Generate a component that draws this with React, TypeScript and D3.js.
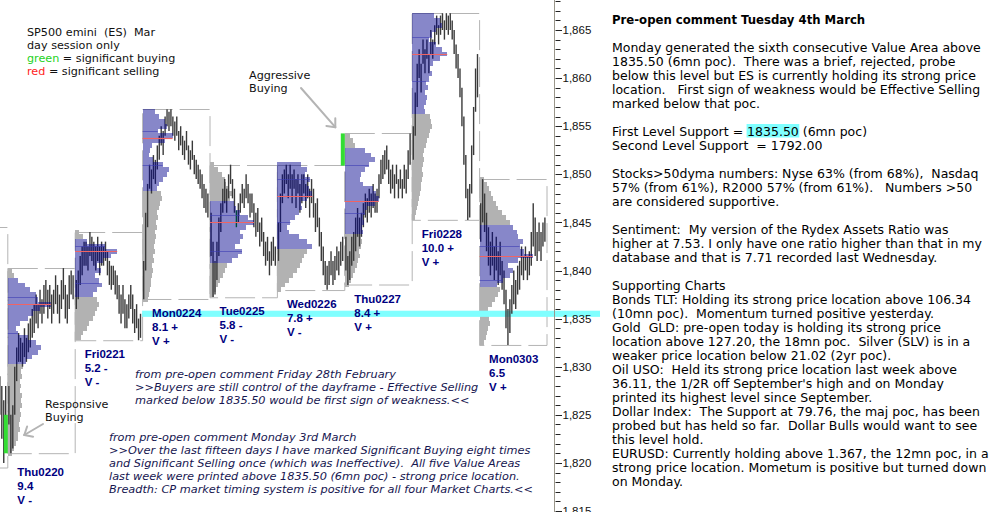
import React, { useEffect, useRef } from 'react';
import * as d3 from 'd3';

// sessions on the chart (Wed0219 is only its last few bars at the left edge)
const days = ['Wed0219', 'Thu0220', 'Fri0221', 'Mon0224', 'Tue0225', 'Wed0226', 'Thu0227', 'Fri0228', 'Mon0303'];
const dayHigh = [1844.5, 1840.25, 1844.0, 1856.75, 1851.0, 1851.0, 1854.25, 1866.75, 1849.5];
const dayLow = [1819.5, 1821.0, 1832.75, 1837.0, 1837.25, 1838.0, 1838.5, 1845.25, 1832.25];
const vaHigh = [NaN, 1839.0, 1843.0, 1856.5, 1847.0, 1851.0, 1852.5, 1866.5, 1844.5];
const vaLow = [NaN, 1830.5, 1837.5, 1848.5, 1841.0, 1842.5, 1844.0, 1856.5, 1838.5];
const pocPrice = [NaN, 1836.5, 1842.0, 1853.75, 1845.0, 1847.75, 1847.25, 1862.5, 1841.5];
const vaInner = [[], [1837.25, 1833.5], [1842.5, 1838.75], [1854.5, 1851.0], [1845.75, 1842.0], [1849.5, 1845.0], [1851.0, 1846.0], [1864.25, 1859.75], [1842.5, 1839.0]];
const rangeText = ['', '9.4', '5.2 -', '8.1 +', '5.8 -', '7.8 +', '8.4 +', '10.0 +', '6.5'];
const volText = ['', 'V -', 'V -', 'V +', 'V -', 'V -', 'V +', 'V +', 'V +'];

// volume profile, one value per half point, from profileStart upwards
const profileStart = [0, 1821.0, 1833.0, 1837.0, 1837.5, 1838.0, 1838.5, 1845.5, 1832.5];
const profThu0220 = [4, 6, 8, 10, 10, 12, 11, 12, 13, 12, 14, 13, 14, 12, 13, 12, 14, 13, 15, 18, 24, 30, 33, 28, 20, 10, 8, 12, 20, 25, 32, 43, 30, 28, 22, 17, 10, 6, 4];
const profFri0221 = [6, 8, 12, 14, 18, 20, 22, 24, 22, 18, 22, 27, 24, 20, 26, 22, 28, 36, 42, 30, 12, 8, 4];
const profMon0224 = [5, 6, 7, 8, 8, 9, 10, 9, 11, 10, 12, 11, 12, 13, 12, 14, 13, 15, 14, 16, 17, 19, 18, 14, 16, 20, 24, 26, 20, 10, 6, 7, 9, 22, 30, 15, 24, 22, 16, 12];
const profTue0225 = [4, 6, 8, 10, 13, 15, 17, 22, 28, 32, 25, 30, 33, 30, 36, 44, 38, 30, 26, 24, 20, 22, 18, 16, 15, 12, 8, 4];
const profWed0226 = [4, 8, 12, 16, 20, 23, 25, 27, 30, 35, 30, 22, 12, 10, 13, 18, 22, 25, 24, 30, 35, 32, 30, 33, 28, 30, 24];
const profThu0227 = [4, 6, 8, 10, 12, 13, 15, 14, 16, 17, 16, 18, 17, 19, 18, 20, 22, 30, 34, 31, 28, 18, 15, 16, 20, 24, 30, 26, 20, 10, 8, 5];
const profFri0228 = [3, 4, 5, 6, 7, 8, 9, 9, 10, 11, 10, 11, 12, 11, 12, 14, 15, 17, 18, 20, 19, 18, 13, 12, 14, 15, 13, 16, 14, 17, 20, 18, 21, 28, 35, 30, 24, 17, 20, 24, 30, 28, 22];
const profMon0303 = [4, 6, 7, 8, 10, 9, 5, 8, 12, 15, 18, 20, 17, 23, 30, 33, 28, 38, 53, 44, 40, 43, 38, 37, 33, 30, 26, 22, 18, 16, 13, 11, 9, 7, 4];
const profiles = [[], profThu0220, profFri0221, profMon0224, profTue0225, profWed0226, profThu0227, profFri0228, profMon0303];

// price bars [high, low]
const barsWed0219 = [[1829, 1825], [1828, 1822.5], [1826.5, 1820], [1828, 1823]];
const barsThu0220 = [[1828, 1824], [1825, 1821], [1826, 1821.5], [1830, 1825], [1832, 1828.5], [1833.5, 1830.5], [1833, 1830.5], [1832.5, 1830], [1834, 1831], [1833, 1830.5], [1834.5, 1831.5], [1835, 1832], [1836, 1833], [1836.5, 1833.5], [1837.5, 1834.5], [1836.5, 1834], [1838, 1835.5], [1837, 1834.5], [1838.5, 1835.5], [1839, 1836.5], [1838, 1835], [1838.5, 1836], [1837.5, 1834.5], [1838, 1835.5], [1839.5, 1836.5], [1838.5, 1835.5], [1837.5, 1834.5], [1839, 1836], [1840.25, 1837], [1838.5, 1835], [1837.5, 1834.5], [1839.5, 1836], [1840, 1837.5], [1839.5, 1837]];
const barsFri0221 = [[1839, 1836], [1840, 1837], [1841.5, 1838.5], [1842.5, 1839.5], [1843, 1840.5], [1843, 1840.5], [1842.5, 1840], [1844, 1841.5], [1843.5, 1841], [1843, 1840.5], [1842.5, 1840], [1843.5, 1841], [1842.5, 1839.5], [1843, 1840.5], [1842.5, 1840.5], [1843, 1841], [1842, 1839.5], [1841, 1838.5], [1840.5, 1838], [1840.5, 1838.5], [1840, 1837.5], [1839.5, 1837], [1838.5, 1835.5], [1837.5, 1834.5], [1838.5, 1835.5], [1837, 1834], [1836.5, 1834], [1837.5, 1835], [1838.5, 1836], [1837.5, 1834.5], [1836, 1833.5], [1836.5, 1834], [1835, 1832.75], [1835.5, 1833]];
const barsMon0224 = [[1841, 1837], [1846, 1840], [1849, 1844.5], [1851, 1848.5], [1850.5, 1848], [1852, 1849.5], [1851.5, 1849], [1853, 1850.5], [1854, 1851.5], [1855, 1853], [1854.5, 1852], [1856, 1854], [1856.75, 1855], [1856.5, 1854.5], [1856.75, 1855], [1856, 1854], [1855.5, 1853.5], [1856, 1854], [1854.5, 1852.5], [1855, 1853], [1854, 1852], [1853.5, 1851.5], [1854.5, 1852.5], [1853, 1851], [1852.5, 1850.5], [1853.5, 1851.5], [1852, 1850], [1851.5, 1849.5], [1851, 1849], [1850.5, 1848.5], [1850, 1847.5], [1849, 1846.5], [1848.5, 1846], [1848, 1845.5]];
const barsTue0225 = [[1846, 1841.5], [1843, 1837.25], [1841, 1837.5], [1843, 1839], [1845.5, 1841.5], [1847, 1844], [1848.5, 1846], [1849.5, 1847], [1848.5, 1846], [1850, 1847.5], [1851, 1849], [1849.5, 1847.5], [1848.5, 1846], [1846.25, 1844.5], [1847, 1845], [1848, 1846], [1849, 1847], [1848.5, 1846.5], [1850, 1847.5], [1849, 1847], [1848, 1845.5], [1848, 1846], [1847, 1844.5], [1846, 1843.5], [1846.5, 1844], [1845, 1842.5], [1845.5, 1843], [1844, 1841.5], [1843, 1840.5], [1843.5, 1841], [1842, 1839.5], [1843, 1840.5], [1843.5, 1841], [1842.5, 1840.5]];
const barsWed0226 = [[1845, 1841], [1848, 1844], [1850, 1847], [1850.5, 1848], [1851, 1849], [1850, 1847.5], [1851, 1848.5], [1850, 1847], [1850.5, 1848.5], [1849.5, 1846.5], [1850, 1848], [1849, 1846], [1850, 1847], [1850, 1848], [1849, 1846.5], [1850, 1847.5], [1848.5, 1845.5], [1849.5, 1847], [1848.5, 1845.5], [1847, 1844], [1847.5, 1844.5], [1845.5, 1842.5], [1844, 1841], [1842.5, 1839.5], [1841, 1838.5], [1840.5, 1838], [1841, 1838.5], [1842, 1839.5], [1841, 1838.5], [1841.5, 1839], [1842.5, 1840], [1842, 1839.5], [1843, 1840.5], [1843.5, 1841]];
const barsThu0227 = [[1843.5, 1840], [1841.5, 1838.5], [1842, 1839], [1843.5, 1840.5], [1844, 1841], [1845.5, 1842], [1846.5, 1843.5], [1845.5, 1842.5], [1846, 1843.5], [1847, 1844.5], [1848, 1845.5], [1847.5, 1845], [1848.5, 1846], [1848, 1845.5], [1849, 1846.5], [1848, 1846], [1848.5, 1846], [1850, 1847.5], [1851.5, 1849], [1852, 1849.5], [1852.5, 1850], [1853, 1850.5], [1851.5, 1849], [1850.5, 1848], [1851, 1848.5], [1850, 1847.5], [1851, 1849], [1849.5, 1847.5], [1850.5, 1848.5], [1849.5, 1847.5], [1851, 1848.5], [1850.5, 1848], [1852.5, 1849.5], [1854.25, 1851]];
const barsFri0228 = [[1855, 1851.5], [1858.5, 1854], [1861.5, 1857], [1863, 1860], [1861.5, 1858.5], [1864, 1861.5], [1863, 1860.5], [1864, 1862], [1862.5, 1860.5], [1865, 1862.5], [1864, 1862], [1865.5, 1863.5], [1866.5, 1864.5], [1865.5, 1863.5], [1866.5, 1864.5], [1866.75, 1865], [1866, 1864], [1866.75, 1865], [1866.5, 1864.5], [1866.75, 1865], [1866, 1864], [1865, 1862.5], [1863.5, 1861], [1862.5, 1860], [1861, 1858], [1859, 1855], [1856, 1851], [1852, 1847.5], [1848.5, 1845.25], [1849, 1845.5], [1853, 1848], [1857, 1852], [1861, 1856.5], [1862.5, 1858]];
const barsMon0303 = [[1847, 1843], [1849.5, 1845], [1848, 1844], [1846, 1842], [1844.5, 1840.5], [1843, 1839.5], [1844, 1840.5], [1842.5, 1839], [1843.5, 1840], [1842, 1838.5], [1843, 1839.5], [1841, 1838], [1840, 1836.5], [1838, 1834], [1836, 1832.25], [1837, 1833.5], [1838.5, 1835.5], [1840, 1836.5], [1839, 1836], [1840.5, 1837.5], [1841, 1838], [1842.5, 1839.5], [1841.5, 1839], [1842.5, 1840], [1841.5, 1839], [1842, 1839.5], [1844, 1840.5], [1847, 1842.5], [1845.5, 1841.5], [1844, 1841], [1845, 1842], [1844, 1841], [1845, 1842.5], [1845.5, 1843]];
const bars = [barsWed0219, barsThu0220, barsFri0221, barsMon0224, barsTue0225, barsWed0226, barsThu0227, barsFri0228, barsMon0303];

// significant buying marks
const buyDay = [1, 6];
const buyHigh = [1825.0, 1854.25];
const buyLow = [1821.0, 1850.9];
const greenBarDay = 4;
const greenBarIndex = 13;

const supportLevel = 1835.5;
const tickMin = 1815;
const tickMax = 1868;

const legendLines = ['SP500 emini  (ES)  Mar', 'day session only'];
const fridayNote = [
  'from pre-open comment Friday 28th February',
  '>>Buyers are still control of the dayframe - Effective Selling',
  'marked below 1835.50 would be first sign of weakness.<<',
];
const mondayNote = [
  'from pre-open comment Monday 3rd March',
  '>>Over the last fifteen days I have marked Significant Buying eight times',
  'and Significant Selling once (which was Ineffective).  All five Value Areas',
  'last week were printed above 1835.50 (6mn poc) - strong price location.',
  'Breadth: CP market timing system is positive for all four Market Charts.<<',
];
const commentLines = [
  'Pre-open comment Tuesday 4th March',
  '',
  'Monday generated the sixth consecutive Value Area above',
  '1835.50 (6mn poc).  There was a brief, rejected, probe',
  'below this level but ES is currently holding its strong price',
  'location.   First sign of weakness would be Effective Selling',
  'marked below that poc.',
  '',
  'First Level Support = |1835.50| (6mn poc)',
  'Second Level Support  = 1792.00',
  '',
  'Stocks>50dyma numbers: Nyse 63% (from 68%),  Nasdaq',
  '57% (from 61%), R2000 57% (from 61%).   Numbers >50',
  'are considered supportive.',
  '',
  'Sentiment:  My version of the Rydex Assets Ratio was',
  'higher at 7.53. I only have one ratio higher than that in my',
  'database and that is 7.71 recorded last Wednesday.',
  '',
  'Supporting Charts',
  'Bonds TLT: Holding its strong price location above 106.34',
  '(10mn poc).  Momentum turned positive yesterday.',
  'Gold  GLD: pre-open today is holding its strong price',
  'location above 127.20, the 18mn poc.  Silver (SLV) is in a',
  'weaker price location below 21.02 (2yr poc).',
  'Oil USO:  Held its strong price location last week above',
  "36.11, the 1/2R off September's high and on Monday",
  'printed its highest level since September.',
  'Dollar Index:  The Support at 79.76, the maj poc, has been',
  'probed but has held so far.  Dollar Bulls would want to see',
  'this level hold.',
  'EURUSD: Currently holding above 1.367, the 12mn poc, in a',
  'strong price location. Mometum is positive but turned down',
  'on Monday.',
];

const W = 992;
const H = 530;

const App: React.FC = () => {
  const ref = useRef<SVGSVGElement>(null);

  useEffect(() => {
    if (!ref.current) return;
    const svg = d3.select(ref.current);
    svg.selectAll('*').remove();

    const y = d3.scaleLinear().domain([1815, 1865]).range([511, 30]);
    const dayX = d3.scaleLinear().domain([0, days.length]).range([-60.1, 546.5]);
    const dayW = dayX(1) - dayX(0);
    const vol = d3.scaleLinear().domain([0, 100]).range([0, 100]);

    svg.append('defs').append('clipPath').attr('id', 'plotclip')
      .append('rect').attr('x', 0).attr('y', 0).attr('width', 610).attr('height', 512);

    const plot = svg.append('g').attr('clip-path', 'url(#plotclip)');

    // range boxes
    plot.append('g').selectAll('rect').data(days).enter().append('rect')
      .attr('x', (_, i) => dayX(i) + 0.5)
      .attr('y', (_, i) => Math.round(y(dayHigh[i])) + 0.5)
      .attr('width', dayW)
      .attr('height', (_, i) => y(dayLow[i]) - y(dayHigh[i]))
      .attr('fill', 'none')
      .attr('stroke', '#b4b4b4')
      .attr('stroke-dasharray', '30 7');

    type Row = { d: number; p: number; v: number };
    const rows: Row[] = [];
    profiles.forEach((prof, d) => prof.forEach((v, i) => rows.push({ d, p: profileStart[d] + i * 0.5, v })));
    const inVA = (r: Row) => r.p >= vaLow[r.d] && r.p <= vaHigh[r.d];
    const rowRect = (sel: d3.Selection<SVGRectElement, Row, SVGGElement, unknown>) => sel
      .attr('x', r => dayX(r.d) + 0.5)
      .attr('y', r => y(r.p + 0.25))
      .attr('width', r => vol(r.v))
      .attr('height', r => y(r.p - 0.25) - y(r.p + 0.25))
      .attr('shape-rendering', 'crispEdges');

    // profile outside the value area
    plot.append('g').selectAll('rect').data(rows.filter(r => !inVA(r))).enter().append('rect')
      .call(rowRect).attr('fill', '#b2b2b2');

    // support band
    plot.append('rect')
      .attr('x', dayX(3)).attr('width', 600 - dayX(3))
      .attr('y', y(supportLevel + 0.32)).attr('height', y(supportLevel - 0.32) - y(supportLevel + 0.32))
      .attr('fill', '#80ffff');

    // price bars
    const barG = plot.append('g');
    bars.forEach((list, d) => {
      const n = list.length;
      const bx = (i: number) => dayX(d + 1) - 1.6 - (n - 1 - i) * ((dayW - 3.2) / 33);
      barG.selectAll(null).data(list).enter().append('line')
        .attr('x1', (_, i) => bx(i)).attr('x2', (_, i) => bx(i))
        .attr('y1', b => y(b[0])).attr('y2', b => y(b[1]))
        .attr('stroke', (_, i) => (d === greenBarDay && i === greenBarIndex ? '#008a00' : '#3a3a3a'))
        .attr('stroke-width', 1.4);
    });

    // value area overlay
    plot.append('g').selectAll('rect').data(rows.filter(inVA)).enter().append('rect')
      .call(rowRect).attr('fill', '#00008c').attr('fill-opacity', 0.47);

    const widthAt = (d: number, p: number) => {
      const i = Math.round((p - profileStart[d]) / 0.5);
      return vol(profiles[d][Math.max(0, Math.min(profiles[d].length - 1, i))]);
    };

    // inner value lines
    vaInner.forEach((lv, d) => lv.forEach(p => {
      plot.append('line')
        .attr('x1', dayX(d) + 0.5).attr('x2', dayX(d) + 0.5 + widthAt(d, p))
        .attr('y1', Math.round(y(p)) + 0.5).attr('y2', Math.round(y(p)) + 0.5)
        .attr('stroke', '#3c3cb4').attr('stroke-opacity', 0.6);
    }));

    // points of control
    pocPrice.forEach((p, d) => {
      if (isNaN(p)) return;
      plot.append('line')
        .attr('x1', dayX(d) + 0.5).attr('x2', dayX(d) + 0.5 + widthAt(d, p))
        .attr('y1', Math.round(y(p)) + 0.5).attr('y2', Math.round(y(p)) + 0.5)
        .attr('stroke', '#f06464').attr('stroke-width', 1.2);
    });

    // significant buying
    plot.append('g').selectAll('rect').data(buyDay).enter().append('rect')
      .attr('x', d => dayX(d) - 3.5).attr('width', 4)
      .attr('y', (_, i) => y(buyHigh[i])).attr('height', (_, i) => y(buyLow[i]) - y(buyHigh[i]))
      .attr('fill', '#33dd33');

    // day labels
    const lab = svg.append('g').attr('font-family', '"Liberation Sans", Arial, sans-serif')
      .attr('font-weight', 'bold').attr('font-size', 11.5).attr('fill', '#000080');
    days.forEach((name, d) => {
      if (d === 0) return;
      const x0 = dayX(d) + 10;
      const y0 = y(dayLow[d]) + (d === 1 ? 23 : 18);
      [name, rangeText[d], volText[d]].forEach((t, k) => {
        lab.append('text').attr('x', x0).attr('y', y0 + k * 14)
          .style('white-space', 'pre').text(t);
      });
    });

    // y axis
    const axisX = 554;
    const ax = plot.append('g');
    ax.append('line').attr('x1', axisX + 0.5).attr('x2', axisX + 0.5).attr('y1', 0).attr('y2', 512)
      .attr('stroke', '#9a968a');
    const ticks = d3.range(tickMin, tickMax + 1);
    ax.selectAll('line.t').data(ticks).enter().append('line').attr('class', 't')
      .attr('x1', axisX + 1.5).attr('x2', v => axisX + (v % 5 === 0 ? 8 : 6.5))
      .attr('y1', v => Math.round(y(v)) + 0.5).attr('y2', v => Math.round(y(v)) + 0.5)
      .attr('stroke', '#222');
    ax.selectAll('text').data(ticks.filter(v => v % 5 === 0)).enter().append('text')
      .attr('x', axisX + 8.5).attr('y', v => y(v)).attr('dy', '0.36em')
      .attr('font-family', '"Liberation Sans", Arial, sans-serif').attr('font-size', 11.5)
      .attr('fill', '#111').text(v => d3.format(',')(v));

    // left annotations
    const note = svg.append('g').attr('font-family', '"DejaVu Sans", Verdana, sans-serif').attr('font-size', 11.2).attr('fill', '#111');
    legendLines.forEach((t, k) => note.append('text').attr('x', 27).attr('y', 36 + k * 13).style('white-space', 'pre').text(t));
    const g1 = note.append('text').attr('x', 27).attr('y', 62).style('white-space', 'pre');
    g1.append('tspan').attr('fill', '#1ed21e').text('green');
    g1.append('tspan').text(' = significant buying');
    const r1 = note.append('text').attr('x', 27).attr('y', 75).style('white-space', 'pre');
    r1.append('tspan').attr('fill', '#ff2222').text('red');
    r1.append('tspan').text(' = significant selling');
    note.append('text').attr('x', 249).attr('y', 79).text('Aggressive');
    note.append('text').attr('x', 249).attr('y', 92).text('Buying');
    note.append('text').attr('x', 45).attr('y', 408).text('Responsive');
    note.append('text').attr('x', 45).attr('y', 421).text('Buying');

    const arrow = (x1: number, y1: number, x2: number, y2: number) => {
      const g = svg.append('g').attr('stroke', '#b4b4b4').attr('stroke-width', 2).attr('stroke-linecap', 'round');
      g.append('line').attr('x1', x1).attr('y1', y1).attr('x2', x2).attr('y2', y2);
      const a = Math.atan2(y2 - y1, x2 - x1);
      [-0.72, 0.72].forEach(da => g.append('line')
        .attr('x1', x2).attr('y1', y2)
        .attr('x2', x2 - 9 * Math.cos(a + da)).attr('y2', y2 - 9 * Math.sin(a + da)));
    };
    arrow(301, 88, dayX(6) - 9, y(1854.9));
    arrow(43, 424, dayX(1) + 17, y(1822.9));

    const ital = svg.append('g').attr('font-family', '"DejaVu Sans", Verdana, sans-serif')
      .attr('font-style', 'italic').attr('font-size', 11.3).attr('fill', '#161650');
    fridayNote.forEach((t, k) => ital.append('text').attr('x', 135).attr('y', 378 + k * 13).style('white-space', 'pre').text(t));
    mondayNote.forEach((t, k) => ital.append('text').attr('x', 109).attr('y', 441 + k * 13).style('white-space', 'pre').text(t));

    // right hand commentary
    const hl = svg.append('g');
    const txt = svg.append('g').attr('font-family', '"DejaVu Sans", Verdana, sans-serif').attr('font-size', 12.5).attr('fill', '#000');
    commentLines.forEach((t, k) => {
      if (!t) return;
      const yy = 23.5 + k * 14;
      if (t.includes('|')) {
        const [a, b, c] = t.split('|');
        const ta = txt.append('text').attr('x', 612).attr('y', yy).style('white-space', 'pre').text(a);
        const wa = (ta.node() as SVGTextElement).getComputedTextLength();
        const tb = txt.append('text').attr('x', 612 + wa).attr('y', yy).style('white-space', 'pre').text(b);
        const wb = (tb.node() as SVGTextElement).getComputedTextLength();
        txt.append('text').attr('x', 612 + wa + wb).attr('y', yy).style('white-space', 'pre').text(c);
        hl.append('rect').attr('x', 612 + wa - 0.5).attr('y', yy - 11.5).attr('width', wb + 1).attr('height', 13.5).attr('fill', '#80ffff');
        return;
      }
      txt.append('text').attr('x', 612).attr('y', yy).style('white-space', 'pre')
        .attr('font-weight', k === 0 ? 'bold' : 'normal')
        .attr('font-size', k === 0 ? 11.7 : 12.5)
        .text(t);
    });
  }, []);

  return (
    <svg ref={ref} width={W} height={H} viewBox={`0 0 ${W} ${H}`}
      style={{ position: 'absolute', left: 0, top: 0, background: '#fff' }} />
  );
};

export default App;
